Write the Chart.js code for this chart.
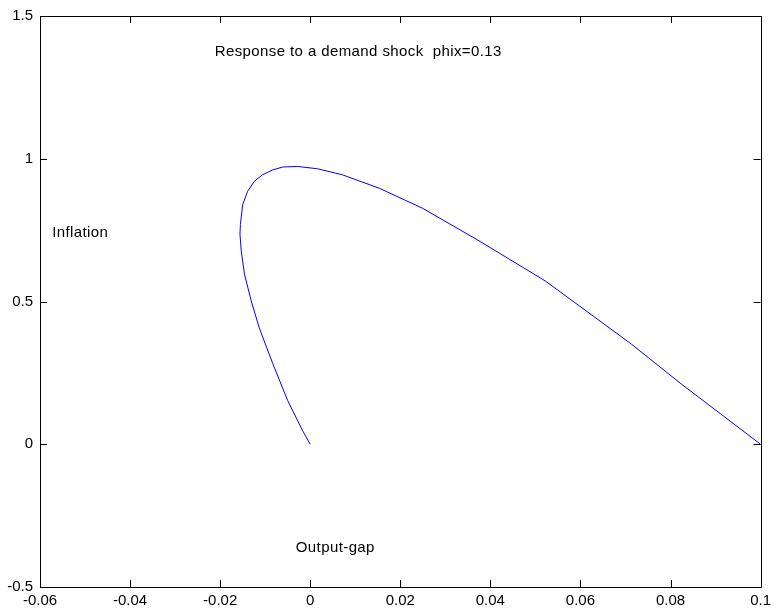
<!DOCTYPE html>
<html>
<head>
<meta charset="utf-8">
<script src="https://cdn.jsdelivr.net/npm/chart.js@4/dist/chart.umd.min.js"></script>
<style>
  html, body { margin: 0; padding: 0; background: #fff; }
  #wrap { width: 776px; height: 614px; }
</style>
</head>
<body>
<div id="wrap"><canvas id="grafico" width="776" height="614"></canvas></div>
<script>
// Respuesta a un shock de demanda (output-gap vs inflation)
const outputGap = [0, -0.0017, -0.0050, -0.0083, -0.0113, -0.0131, -0.0146, -0.0153, -0.0156, -0.0155,
  -0.0150, -0.0139, -0.0124, -0.0106, -0.0083, -0.0061, -0.0028, 0.0016, 0.0071, 0.0153,
  0.0249, 0.0370, 0.0522, 0.0713, 0.0824, 0.1000];
const inflation = [0, 0.048, 0.153, 0.282, 0.407, 0.502, 0.596, 0.676, 0.736, 0.770,
  0.839, 0.886, 0.921, 0.944, 0.961, 0.971, 0.973, 0.965, 0.944, 0.897,
  0.827, 0.717, 0.572, 0.351, 0.211, 0.0];

const xTicks = [-0.06, -0.04, -0.02, 0, 0.02, 0.04, 0.06, 0.08, 0.1];
const yTicks = [-0.5, 0, 0.5, 1, 1.5];

// etiquetas de texto en coordenadas de datos
const textLabels = ['Response to a demand shock  phix=0.13', 'Inflation', 'Output-gap'];
const textX = [-0.0212, -0.0573, -0.0032];
const textY = [1.374, 0.740, -0.364];

const familia = '"Liberation Sans", Arial, sans-serif';
const fuente = '15px ' + familia;

const puntos = outputGap.map((x, i) => ({ x: x, y: inflation[i] }));

const fmt = v => String(Number(v.toFixed(2)));

// marco y marcas hacia adentro, estilo matlab
const marcoPlugin = {
  id: 'marco',
  afterDraw(chart) {
    const ctx = chart.ctx;
    const a = chart.chartArea;
    const sx = chart.scales.x, sy = chart.scales.y;
    const tl = 7;
    ctx.save();
    ctx.strokeStyle = '#000';
    ctx.lineWidth = 1;
    ctx.beginPath();
    ctx.rect(Math.round(a.left) + 0.5, Math.round(a.top) + 0.5,
      Math.round(a.right - a.left), Math.round(a.bottom - a.top));
    xTicks.forEach(v => {
      const px = Math.round(sx.getPixelForValue(v)) + 0.5;
      ctx.moveTo(px, a.bottom); ctx.lineTo(px, a.bottom - tl);
      ctx.moveTo(px, a.top); ctx.lineTo(px, a.top + tl);
    });
    yTicks.forEach(v => {
      const py = Math.round(sy.getPixelForValue(v)) + 0.5;
      ctx.moveTo(a.left, py); ctx.lineTo(a.left + tl, py);
      ctx.moveTo(a.right, py); ctx.lineTo(a.right - tl, py);
    });
    ctx.stroke();

    ctx.fillStyle = '#000';
    ctx.font = fuente;
    ctx.textAlign = 'left';
    ctx.textBaseline = 'middle';
    ctx.letterSpacing = '0.4px';
    textLabels.forEach((t, i) => {
      ctx.fillText(t, sx.getPixelForValue(textX[i]), sy.getPixelForValue(textY[i]));
    });
    ctx.restore();
  }
};

new Chart(document.getElementById('grafico'), {
  type: 'scatter',
  data: {
    datasets: [{
      data: puntos,
      showLine: true,
      borderColor: '#0000ff',
      borderWidth: 1,
      pointRadius: 0,
      tension: 0,
      fill: false
    }]
  },
  options: {
    responsive: false,
    animation: false,
    events: [],
    layout: { padding: { top: 14, right: 13, left: 0, bottom: 0 } },
    plugins: {
      legend: { display: false },
      tooltip: { enabled: false }
    },
    scales: {
      x: {
        type: 'linear',
        min: -0.06,
        max: 0.1,
        afterBuildTicks: s => { s.ticks = xTicks.map(v => ({ value: v })); },
        afterFit: s => { s.height = 27; },
        grid: { display: false, drawTicks: false },
        border: { display: false },
        ticks: {
          padding: 5,
          color: '#000',
          font: { family: familia, size: 15 },
          maxRotation: 0,
          autoSkip: false,
          callback: v => fmt(v)
        }
      },
      y: {
        type: 'linear',
        min: -0.5,
        max: 1.5,
        afterBuildTicks: s => { s.ticks = yTicks.map(v => ({ value: v })); },
        afterFit: s => { s.width = 40; },
        grid: { display: false, drawTicks: false },
        border: { display: false },
        ticks: {
          padding: 7,
          color: '#000',
          font: { family: familia, size: 15 },
          autoSkip: false,
          callback: v => fmt(v)
        }
      }
    }
  },
  plugins: [marcoPlugin]
});
</script>
</body>
</html>
